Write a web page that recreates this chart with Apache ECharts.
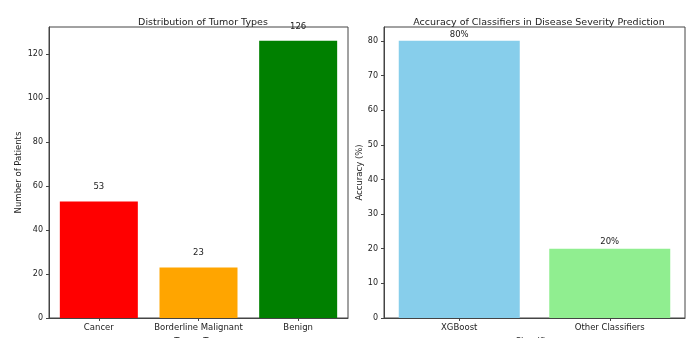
<!DOCTYPE html>
<html>
<head>
<meta charset="utf-8">
<script src="https://cdn.jsdelivr.net/npm/echarts@6/dist/echarts.min.js"></script>
<style>
  html, body { margin: 0; padding: 0; background: #fff; }
  #main { width: 691px; height: 338px; }
</style>
</head>
<body>
<div id="main"></div>
<script>
// tumor distribution (left)
const tumorTypes = ['Cancer', 'Borderline Malignant', 'Benign']
const tumorCounts = [53, 23, 126]
const tumorColors = ['#ff0000', '#ffa500', '#008000']

// classifier accuracy (right)
const classifiers = ['XGBoost', 'Other Classifiers']
const accuracy = [80, 20]
const accColors = ['#87ceeb', '#90ee90']

const font = 'DejaVu Sans'
const txt = '#222'

const chart = echarts.init(document.getElementById('main'))

function yAxisCommon (gridIndex, max, interval, name, gap) {
  return {
    type: 'value', gridIndex, min: 0, max, interval,
    name, nameLocation: 'middle', nameGap: gap, nameRotate: 90,
    nameTextStyle: { fontFamily: font, fontSize: 8.5, color: txt },
    axisLine: { show: true, lineStyle: { color: '#444' } },
    axisTick: { show: true, length: 3, lineStyle: { color: '#444' } },
    axisLabel: { fontFamily: font, fontSize: 8, color: txt, margin: 6, showMaxLabel: false },
    splitLine: { show: false }
  }
}

function xAxisCommon (gridIndex, data, name) {
  return {
    type: 'category', gridIndex, data,
    name, nameLocation: 'middle', nameGap: 16,
    nameTextStyle: { fontFamily: font, fontSize: 8.5, color: txt },
    axisLine: { show: true, lineStyle: { color: '#444' } },
    axisTick: { show: true, alignWithLabel: true, length: 3, lineStyle: { color: '#444' } },
    axisLabel: { fontFamily: font, fontSize: 8.5, color: txt, margin: 5, interval: 0 }
  }
}

const option = {
  animation: false,
  backgroundColor: '#fff',
  title: [
    { text: 'Distribution of Tumor Types', left: 198, top: 13, textAlign: 'center',
      textStyle: { fontFamily: font, fontSize: 9.5, fontWeight: 'normal', color: txt } },
    { text: 'Accuracy of Classifiers in Disease Severity Prediction', left: 534, top: 13, textAlign: 'center',
      textStyle: { fontFamily: font, fontSize: 9.5, fontWeight: 'normal', color: txt } }
  ],
  grid: [
    { left: 49, top: 27, width: 299, height: 291, outerBoundsMode: 'none', show: true, borderColor: '#444', borderWidth: 1, backgroundColor: 'transparent' },
    { left: 384, top: 27, width: 301, height: 291, outerBoundsMode: 'none', show: true, borderColor: '#444', borderWidth: 1, backgroundColor: 'transparent' }
  ],
  xAxis: [
    xAxisCommon(0, tumorTypes, 'Tumor Type'),
    xAxisCommon(1, classifiers, 'Classifier')
  ],
  yAxis: [
    yAxisCommon(0, 132.3, 20, 'Number of Patients', 26),
    yAxisCommon(1, 84, 10, 'Accuracy (%)', 19)
  ],
  series: [
    {
      type: 'bar', xAxisIndex: 0, yAxisIndex: 0, barWidth: 78,
      data: tumorCounts.map((v, i) => ({ value: v, itemStyle: { color: tumorColors[i] } })),
      label: { show: true, position: 'top', distance: 10, fontFamily: font, fontSize: 8.5, color: txt }
    },
    {
      type: 'bar', xAxisIndex: 1, yAxisIndex: 1, barWidth: 121,
      data: accuracy.map((v, i) => ({ value: v, itemStyle: { color: accColors[i] } })),
      label: { show: true, position: 'top', distance: 2, fontFamily: font, fontSize: 8.5, color: txt,
        formatter: p => p.value + '%' }
    }
  ]
}

chart.setOption(option)
</script>
</body>
</html>
